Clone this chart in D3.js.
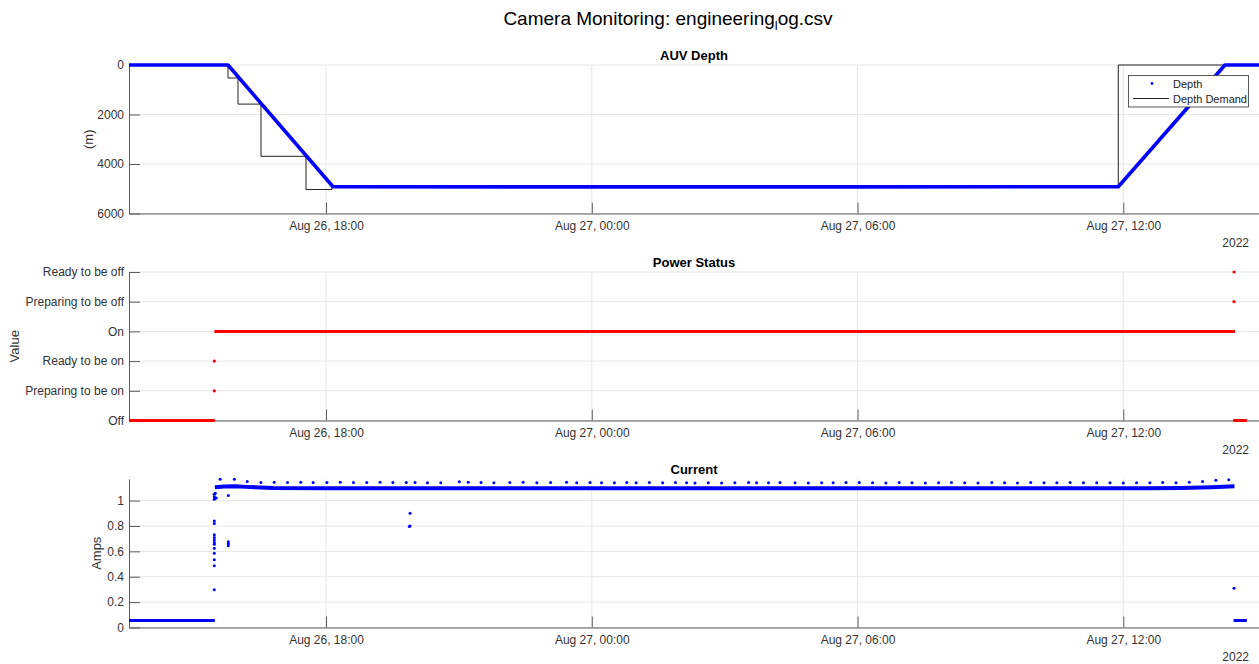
<!DOCTYPE html>
<html>
<head>
<meta charset="utf-8">
<script src="https://cdn.jsdelivr.net/npm/d3@7"></script>
<style>
  body { margin: 0; background: #fff; }
  svg { display: block; }
  text { font-family: "Liberation Sans", Arial, Helvetica, sans-serif; }
</style>
</head>
<body>
<svg id="chart" width="1259" height="664"></svg>
<script>
// All times are hours after 2022-08-26 00:00.
const timeDomain = [13.552, 39.064];
const timeTicks = [18, 24, 30, 36];
const yearLabel = "2022";

// AUV depth (m) and the commanded depth
const depthHours  = [13.552, 15.787, 18.158, 24.0, 30.0, 35.887, 38.296, 39.064];
const depthValues = [0, 0, 4920, 4925, 4925, 4920, 0, 0];
const demandHours  = [15.787, 16.013, 16.532, 17.548, 18.135, 35.887, 39.064];
const demandValues = [525, 1580, 3690, 5030, 4920, 0, 0];
const depthTicks = [0, 2000, 4000, 6000];

// Camera power state
const powerLabels = ["Off", "Preparing to be on", "Ready to be on", "On", "Preparing to be off", "Ready to be off"];
const powerRuns = [[13.552, 15.49, 0], [15.48, 38.52, 3], [38.48, 38.79, 0]];
const powerPoints = [[15.478, 1], [15.478, 2], [38.50, 4], [38.50, 5]];

// Camera current (A)
const currentTicks = [0, 0.2, 0.4, 0.6, 0.8, 1];
const currentIdle = [[13.552, 15.49, 0.055], [38.49, 38.79, 0.055]];
const currentOnHours  = [15.49, 15.70, 15.95, 16.30, 16.80, 18.0, 24.0, 30.0, 35.0, 36.5, 37.3, 38.0, 38.51];
const currentOnValues = [1.105, 1.110, 1.113, 1.106, 1.100, 1.098, 1.097, 1.097, 1.097, 1.098, 1.100, 1.105, 1.112];
const currentScatter = [
  [15.478, 1.05], [15.478, 1.03], [15.478, 1.01], [15.478, 0.84], [15.478, 0.82],
  [15.478, 0.73], [15.478, 0.71], [15.478, 0.69], [15.478, 0.67], [15.478, 0.656],
  [15.478, 0.625], [15.478, 0.585], [15.478, 0.533], [15.478, 0.486], [15.478, 0.297],
  [15.50, 1.058], [15.52, 1.02],
  [15.794, 1.04], [15.794, 0.675], [15.794, 0.66], [15.794, 0.645],
  [19.897, 0.90], [19.897, 0.80], [19.88, 0.795],
  [38.50, 0.31]
];
// periodic current peaks: [hour, amps]
const currentPeaks = [
  [15.61, 1.168], [15.93, 1.168], [16.22, 1.150], [16.53, 1.142], [16.83, 1.145],
  [17.13, 1.142], [17.43, 1.145], [17.71, 1.142], [18.02, 1.142], [18.32, 1.145],
  [18.62, 1.142], [18.92, 1.142], [19.22, 1.145], [19.51, 1.142], [19.81, 1.142],
  [20.01, 1.142], [20.29, 1.140], [20.59, 1.140], [21.01, 1.148], [21.21, 1.145],
  [21.50, 1.142], [21.79, 1.140], [22.15, 1.142], [22.45, 1.145], [22.76, 1.140],
  [23.07, 1.142], [23.43, 1.145], [23.66, 1.140], [23.96, 1.142], [24.22, 1.140],
  [24.51, 1.140], [24.79, 1.142], [25.00, 1.140], [25.30, 1.142], [25.60, 1.140],
  [25.89, 1.142], [26.14, 1.140], [26.33, 1.138], [26.63, 1.140], [26.93, 1.138],
  [27.23, 1.140], [27.54, 1.142], [27.72, 1.140], [27.99, 1.140], [28.25, 1.142],
  [28.59, 1.140], [28.89, 1.138], [29.19, 1.140], [29.45, 1.140], [29.74, 1.142],
  [30.04, 1.142], [30.34, 1.140], [30.64, 1.138], [30.94, 1.142], [31.23, 1.140],
  [31.53, 1.138], [31.83, 1.140], [32.12, 1.142], [32.42, 1.140], [32.72, 1.138],
  [33.03, 1.142], [33.32, 1.140], [33.61, 1.138], [33.91, 1.142], [34.21, 1.140],
  [34.50, 1.140], [34.80, 1.142], [35.10, 1.140], [35.40, 1.140], [35.70, 1.140],
  [36.00, 1.138], [36.30, 1.140], [36.60, 1.140], [36.89, 1.142], [37.19, 1.140],
  [37.49, 1.145], [37.79, 1.150], [38.09, 1.160], [38.38, 1.165]
];

const base = new Date(2022, 7, 26, 0, 0, 0).getTime();
const toDate = h => new Date(base + h * 3600000);

const svg = d3.select("#chart");
const left = 129, right = 1259;
const panelH = 148.5;
const tops = [65, 272, 479];

const axisColor = "#5c5c5c";
const textColor = "#333333";
const gridColor = "#e6e6e6";
const fontTick = "12px";

const x = d3.scaleTime().domain(timeDomain.map(toDate)).range([left, right]);

// Main title with a lowered "l" where the underscore was read as a subscript
const title = svg.append("text")
  .attr("x", 668).attr("y", 25)
  .attr("text-anchor", "middle")
  .attr("font-size", "19px")
  .attr("fill", "#000");
title.append("tspan").text("Camera Monitoring: engineering");
title.append("tspan").attr("font-size", "13px").attr("dy", 5).text("l");
title.append("tspan").attr("dy", -5).text("og.csv");

function drawPanel(top, y, yTickVals, yFmt, name, yLabel, yLabelX) {
  const bottom = top + panelH;
  const g = svg.append("g");

  // grid
  g.append("g").selectAll("line").data(yTickVals).join("line")
    .attr("x1", left).attr("x2", right)
    .attr("y1", d => y(d)).attr("y2", d => y(d))
    .attr("stroke", gridColor).attr("stroke-width", 1);
  g.append("g").selectAll("line").data(timeTicks).join("line")
    .attr("x1", d => x(toDate(d))).attr("x2", d => x(toDate(d)))
    .attr("y1", top).attr("y2", bottom)
    .attr("stroke", gridColor).attr("stroke-width", 1);

  // x axis
  const xa = g.append("g").attr("transform", `translate(0,${bottom})`)
    .call(d3.axisBottom(x)
      .tickValues(timeTicks.map(toDate))
      .tickFormat(d3.timeFormat("%b %d, %H:%M"))
      .tickSizeInner(-11).tickSizeOuter(0).tickPadding(8));
  xa.select(".domain").attr("stroke", axisColor);
  xa.selectAll(".tick line").attr("stroke", axisColor);
  xa.selectAll(".tick text").attr("fill", textColor).attr("font-size", fontTick)
    .attr("font-family", '"Liberation Sans", Arial, sans-serif');

  // y axis
  const ya = g.append("g").attr("transform", `translate(${left},0)`)
    .call(d3.axisLeft(y)
      .tickValues(yTickVals)
      .tickFormat(yFmt)
      .tickSizeInner(-11).tickSizeOuter(0).tickPadding(5));
  ya.select(".domain").attr("stroke", axisColor);
  ya.selectAll(".tick line").attr("stroke", axisColor);
  ya.selectAll(".tick text").attr("fill", textColor).attr("font-size", fontTick)
    .attr("font-family", '"Liberation Sans", Arial, sans-serif');

  // year under the time axis
  g.append("text").attr("x", 1249).attr("y", bottom + 33)
    .attr("text-anchor", "end").attr("font-size", fontTick).attr("fill", textColor)
    .text(yearLabel);

  // panel title
  g.append("text").attr("x", (left + right) / 2).attr("y", top - 5)
    .attr("text-anchor", "middle").attr("font-size", "13px").attr("font-weight", "bold")
    .attr("fill", "#000").text(name);

  // y label
  g.append("text")
    .attr("transform", `translate(${yLabelX},${(top + bottom) / 2}) rotate(-90)`)
    .attr("text-anchor", "middle").attr("dominant-baseline", "central")
    .attr("font-size", "13px").attr("fill", textColor).text(yLabel);

  return g;
}

// ---------- AUV Depth ----------
const yDepth = d3.scaleLinear().domain([0, 6000]).range([tops[0], tops[0] + panelH]);
const gDepth = drawPanel(tops[0], yDepth, depthTicks, d3.format("d"), "AUV Depth", "(m)", 88);

const depthLine = d3.line()
  .x((d, i) => x(toDate(depthHours[i])))
  .y(d => yDepth(d));
const demandLine = d3.line()
  .curve(d3.curveStepAfter)
  .x((d, i) => x(toDate(demandHours[i])))
  .y(d => yDepth(d));

gDepth.append("path").datum(demandValues).attr("d", demandLine)
  .attr("fill", "none").attr("stroke", "#222").attr("stroke-width", 1);
// vertical drop from the surface into the first commanded step
gDepth.append("line")
  .attr("x1", x(toDate(demandHours[0]))).attr("x2", x(toDate(demandHours[0])))
  .attr("y1", yDepth(0)).attr("y2", yDepth(demandValues[0]))
  .attr("stroke", "#222").attr("stroke-width", 1);
gDepth.append("path").datum(depthValues).attr("d", depthLine)
  .attr("fill", "none").attr("stroke", "#0000ff").attr("stroke-width", 3.6)
  .attr("stroke-linejoin", "round");

// legend
const lg = gDepth.append("g");
lg.append("rect").attr("x", 1128.5).attr("y", 75.5).attr("width", 120).attr("height", 31.5)
  .attr("fill", "#fff").attr("stroke", "#333").attr("stroke-width", 0.8);
lg.append("circle").attr("cx", 1152).attr("cy", 83.5).attr("r", 1.4).attr("fill", "#0000ff");
lg.append("line").attr("x1", 1133).attr("x2", 1169).attr("y1", 98.5).attr("y2", 98.5)
  .attr("stroke", "#222").attr("stroke-width", 1);
lg.append("text").attr("x", 1173).attr("y", 87.5).attr("font-size", "11px").attr("fill", "#222").text("Depth");
lg.append("text").attr("x", 1173).attr("y", 102.5).attr("font-size", "11px").attr("fill", "#222").text("Depth Demand");

// ---------- Power Status ----------
const yPower = d3.scaleLinear().domain([0, 5]).range([tops[1] + panelH, tops[1]]);
const gPower = drawPanel(tops[1], yPower, d3.range(powerLabels.length), i => powerLabels[i],
  "Power Status", "Value", 14);

gPower.append("g").selectAll("line").data(powerRuns).join("line")
  .attr("x1", d => x(toDate(d[0]))).attr("x2", d => x(toDate(d[1])))
  .attr("y1", d => yPower(d[2])).attr("y2", d => yPower(d[2]))
  .attr("stroke", "#ff0000").attr("stroke-width", 3);
gPower.append("g").selectAll("circle").data(powerPoints).join("circle")
  .attr("cx", d => x(toDate(d[0]))).attr("cy", d => yPower(d[1]))
  .attr("r", 1.6).attr("fill", "#ff0000");

// ---------- Current ----------
const yCur = d3.scaleLinear().domain([0, 1.17]).range([tops[2] + panelH, tops[2]]);
const gCur = drawPanel(tops[2], yCur, currentTicks, d3.format("~g"), "Current", "Amps", 96);

gCur.append("g").selectAll("line").data(currentIdle).join("line")
  .attr("x1", d => x(toDate(d[0]))).attr("x2", d => x(toDate(d[1])))
  .attr("y1", d => yCur(d[2])).attr("y2", d => yCur(d[2]))
  .attr("stroke", "#0000ff").attr("stroke-width", 3);

const curLine = d3.line()
  .x((d, i) => x(toDate(currentOnHours[i])))
  .y(d => yCur(d));
gCur.append("path").datum(currentOnValues).attr("d", curLine)
  .attr("fill", "none").attr("stroke", "#0000ff").attr("stroke-width", 4)
  .attr("stroke-linejoin", "round");

gCur.append("g").selectAll("circle").data(currentPeaks).join("circle")
  .attr("cx", d => x(toDate(d[0]))).attr("cy", d => yCur(d[1]))
  .attr("r", 1.5).attr("fill", "#0000ff");
gCur.append("g").selectAll("circle").data(currentScatter).join("circle")
  .attr("cx", d => x(toDate(d[0]))).attr("cy", d => yCur(d[1]))
  .attr("r", 1.5).attr("fill", "#0000ff");
</script>
</body>
</html>
